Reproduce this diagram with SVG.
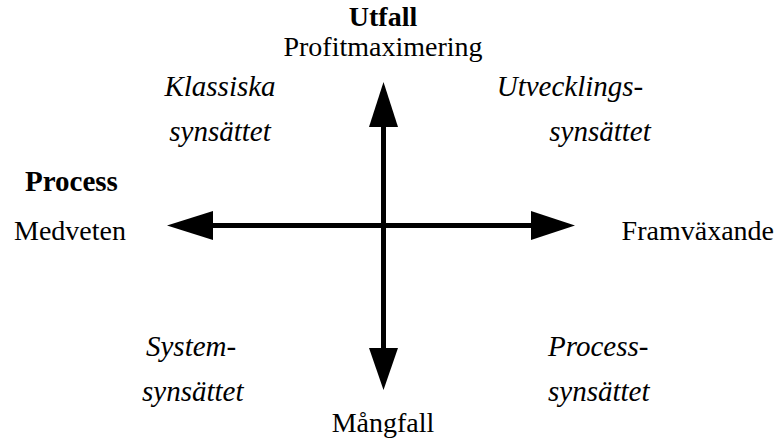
<svg xmlns="http://www.w3.org/2000/svg" width="778" height="443" viewBox="0 0 778 443">
<style>
text{font-family:"Liberation Serif","Times New Roman",serif;font-size:28px;fill:#000}
.b{font-weight:bold}
.i{font-style:italic;font-size:29px}
.m{text-anchor:middle}
.shaft{stroke:#000;stroke-width:5;fill:none}
.head{fill:#000}
</style>
<rect width="778" height="443" fill="#fff"/>
<g id="connectors">
<line class="shaft" x1="383.5" y1="120" x2="383.5" y2="355"/>
<line class="shaft" x1="205" y1="225.5" x2="540" y2="225.5"/>
<polygon class="head" points="383.5,82 369,127 398,127"/>
<polygon class="head" points="383.5,390 369,348 398,348"/>
<polygon class="head" points="167,225.5 213,211 213,240"/>
<polygon class="head" points="575,225.5 531,211 531,240"/>
</g>
<g id="top"><text class="b m" x="383" y="26">Utfall</text><text class="m" x="383" y="56">Profitmaximering</text></g>
<g id="bottom"><text class="m" x="383" y="432">Mångfall</text></g>
<g id="left"><text class="b" x="25" y="191" style="font-size:29px">Process</text><text x="14" y="240">Medveten</text></g>
<g id="right"><text x="774" y="240" style="text-anchor:end">Framväxande</text></g>
<g id="q1"><text class="i m" x="220" y="96">Klassiska</text><text class="i m" x="220" y="141">synsättet</text></g>
<g id="q2"><text class="i m" x="570" y="96">Utvecklings-</text><text class="i m" x="600" y="141">synsättet</text></g>
<g id="q3"><text class="i" x="146" y="356">System-</text><text class="i" x="142" y="401">synsättet</text></g>
<g id="q4"><text class="i" x="548" y="356">Process-</text><text class="i" x="548" y="401">synsättet</text></g>
</svg>
